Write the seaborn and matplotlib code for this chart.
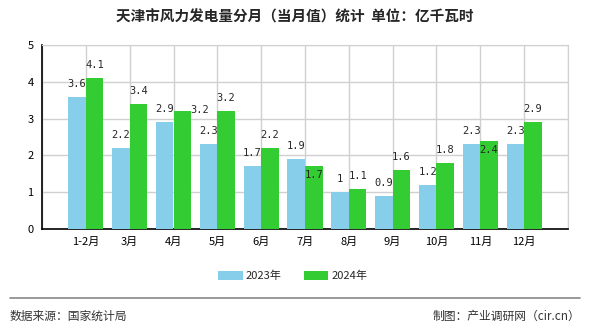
import matplotlib
matplotlib.use("Agg")
import matplotlib.pyplot as plt
import seaborn as sns
import pandas as pd
from matplotlib.patches import Patch
from matplotlib.lines import Line2D

months = ["1-2月", "3月", "4月", "5月", "6月", "7月", "8月", "9月", "10月", "11月", "12月"]
v2023 = [3.6, 2.2, 2.9, 2.3, 1.7, 1.9, 1, 0.9, 1.2, 2.3, 2.3]
v2024 = [4.1, 3.4, 3.2, 3.2, 2.2, 1.7, 1.1, 1.6, 1.8, 2.4, 2.9]
series = ["2023年", "2024年"]
colors = ["#87CEEB", "#33CC33"]
title = "天津市风力发电量分月（当月值）统计  单位：亿千瓦时"
source = "数据来源：国家统计局"
credit = "制图：产业调研网（cir.cn）"

df = pd.DataFrame({
    "month": months * 2,
    "value": v2023 + v2024,
    "year": [series[0]] * len(months) + [series[1]] * len(months),
})

sns.set_style("white")
plt.rcParams['font.family'] = ['Noto Sans CJK SC', 'DejaVu Sans']

fig = plt.figure(figsize=(5.9, 3.3), dpi=100)
ax = fig.add_axes([42 / 590, 1 - 229 / 330, 526 / 590, 184 / 330])

sns.barplot(data=df, x="month", y="value", hue="year", palette=colors,
            order=months, hue_order=series, width=0.8, saturation=1,
            ax=ax, legend=False, zorder=3, linewidth=0, edgecolor="none")

ax.set_xlim(-1, len(months))
ax.set_ylim(0, 5)
ax.set_xticks(range(-1, len(months) + 1))
ax.set_xticklabels([""] + months + [""], fontsize=8)
ax.set_yticks(range(0, 6))
ax.set_yticklabels([str(i) for i in range(6)], fontsize=8)
ax.set_xlabel("")
ax.set_ylabel("")
ax.grid(True, color="#d0d0d0", linewidth=1, zorder=0)
ax.set_axisbelow(True)
for s in ["top", "right"]:
    ax.spines[s].set_color("#d0d0d0")
for s in ["left", "bottom"]:
    ax.spines[s].set_color("black")
    ax.spines[s].set_linewidth(1.2)
ax.tick_params(axis="both", direction="out", length=4, width=1, colors="black", pad=2)

# data labels
special = {(2, 1): ("right", 0), (5, 1): ("in", 0), (9, 1): ("in", 0)}
for si, (container, vals) in enumerate(zip(ax.containers, [v2023, v2024])):
    for i, (bar, v) in enumerate(zip(container, vals)):
        cx = bar.get_x() + bar.get_width() / 2
        top = bar.get_height()
        lab = f"{v:g}"
        mode = special.get((i, si))
        if mode is None:
            off = (0, 13)
        elif mode[0] == "right":
            off = (17, 1)
        else:
            off = (0, -9)
        ax.annotate(lab, (cx, top), xytext=off, textcoords="offset pixels",
                    ha="center", va="center", fontsize=7.5, family="DejaVu Sans Mono")

fig.text(0.5, 1 - 17 / 330, title, ha="center", va="center", fontsize=10.5, fontweight="bold")

handles = [Patch(facecolor=c, edgecolor="none") for c in colors]
fig.legend(handles, series, loc="center", bbox_to_anchor=(293 / 590, 1 - 276 / 330),
           ncol=2, frameon=False, fontsize=8, handlelength=2.2, handleheight=0.9,
           handletextpad=0.3, columnspacing=2.0)

fig.add_artist(Line2D([10 / 590, 580 / 590], [1 - 298 / 330] * 2, color="#888888", linewidth=1.2))
fig.text(10 / 590, 1 - 316 / 330, source, ha="left", va="center", fontsize=8.5, color="#333333")
fig.text(580 / 590, 1 - 316 / 330, credit, ha="right", va="center", fontsize=8.5, color="#333333")

fig.savefig("out.png", dpi=100)
